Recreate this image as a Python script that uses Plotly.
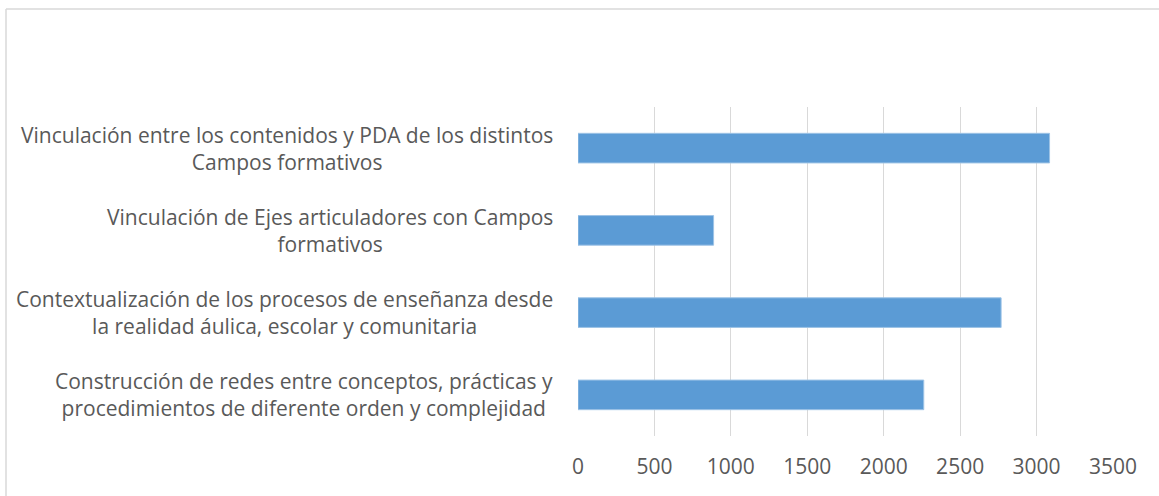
import plotly.graph_objects as go

categories = [
    "Construcción de redes entre conceptos, prácticas y<br>procedimientos de diferente orden y complejidad",
    "Contextualización de los procesos de enseñanza desde<br>la realidad áulica, escolar y comunitaria",
    "Vinculación de Ejes articuladores con Campos<br>formativos",
    "Vinculación entre los contenidos y PDA de los distintos<br>Campos formativos",
]
values = [2262, 2768, 887, 3085]
x_ticks = [0, 500, 1000, 1500, 2000, 2500, 3000, 3500]

TEXT = "#595959"
FONT = "Open Sans"
FS = 21

# plot area in pixels
PL, PR, PT, PB = 578, 1113, 107, 436
W, H = 1159, 496
PW, PH = PR - PL, PB - PT

fig = go.Figure(
    go.Bar(
        x=values,
        y=categories,
        orientation="h",
        marker=dict(color="#5B9BD5", line=dict(color="#9DC3E6", width=1)),
        width=0.36,
        hoverinfo="x",
    )
)

annotations = [
    dict(
        x=(555 - PL) / PW, xref="x domain", y=c, yref="y",
        text=c, showarrow=False, xanchor="right", yanchor="middle",
        align="center", font=dict(family=FONT, size=FS, color=TEXT),
    )
    for c in categories
]

fig.update_layout(
    width=W,
    height=H,
    margin=dict(l=PL, r=W - PR, t=PT, b=H - PB),
    paper_bgcolor="white",
    plot_bgcolor="white",
    showlegend=False,
    font=dict(family=FONT, size=FS, color=TEXT),
    annotations=annotations,
    shapes=[
        dict(type="line", xref="paper", yref="paper",
             x0=(6 - PL) / PW, x1=(W - PL) / PW,
             y0=(PB - 9) / PH, y1=(PB - 9) / PH,
             line=dict(color="#D9D9D9", width=1.5)),
        dict(type="line", xref="paper", yref="paper",
             x0=(6 - PL) / PW, x1=(6 - PL) / PW,
             y0=(PB - 9) / PH, y1=(PB - H) / PH,
             line=dict(color="#D9D9D9", width=1.5)),
    ],
    xaxis=dict(
        range=[0, 3500],
        tickvals=x_ticks,
        ticktext=[str(v) for v in x_ticks],
        showgrid=True,
        gridcolor="#D9D9D9",
        gridwidth=1.4,
        zeroline=False,
        showline=False,
        ticks="",
        tickfont=dict(family=FONT, size=FS, color=TEXT),
        ticklabelstandoff=16,
    ),
    yaxis=dict(
        categoryorder="array",
        categoryarray=categories,
        showticklabels=False,
        showgrid=False,
        zeroline=False,
        showline=False,
        ticks="",
    ),
)

fig.write_html(
    "out.html",
    config={"displayModeBar": False},
    post_script="document.body.style.margin='0';",
)
